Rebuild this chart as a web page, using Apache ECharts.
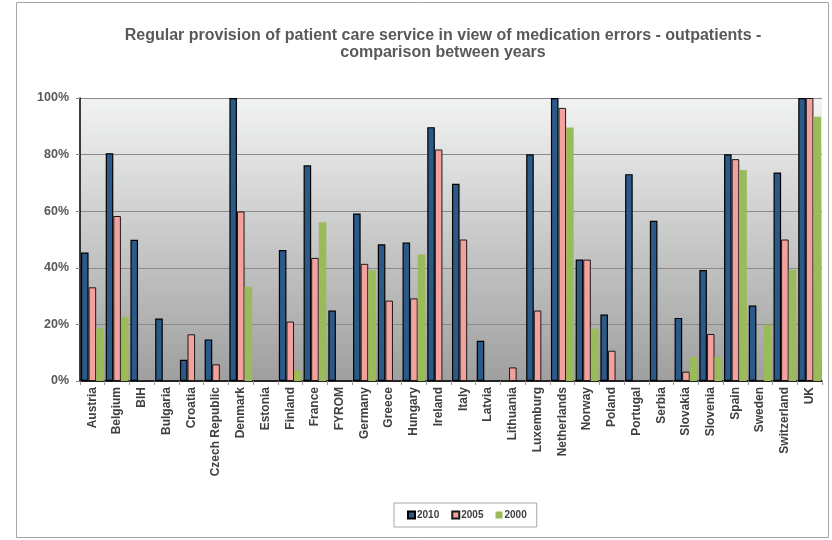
<!DOCTYPE html>
<html><head><meta charset="utf-8">
<script src="https://cdn.jsdelivr.net/npm/echarts@6/dist/echarts.min.js"></script>
<style>html,body{margin:0;padding:0;background:#fff}#c{width:832px;height:540px}</style>
</head><body><div id="c"></div>
<script>
const categories = ["Austria","Belgium","BIH","Bulgaria","Croatia","Czech Republic","Denmark","Estonia","Finland","France","FYROM","Germany","Greece","Hungary","Ireland","Italy","Latvia","Lithuania","Luxemburg","Netherlands","Norway","Poland","Portugal","Serbia","Slovakia","Slovenia","Spain","Sweden","Switzerland","UK"];
const v2010 = [45.4,80.5,49.9,22.1,7.5,14.7,100,0,46.3,76.2,24.9,59.2,48.3,48.9,89.7,69.7,14.2,0,80.1,100,42.9,23.5,73.1,56.6,22.3,39.2,80.1,26.7,73.7,100];
const v2005 = [33.1,58.3,0,0,16.5,5.9,59.9,0,21.0,43.5,0,41.4,28.4,29.2,81.8,50.0,0,4.8,24.9,96.5,42.9,10.7,0,0,3.3,16.6,78.4,0,50.0,100];
const v2000 = [18.6,22.6,0,0,0,0,33.3,0,3.7,56.1,0,39.2,0,44.7,0,0,0,0,0,89.6,18.5,0,0,0,8.5,8.5,74.6,19.9,39.3,93.4];
const yTicks = [0,20,40,60,80,100];
const seriesNames = ["2010","2005","2000"];

const nz = a => a.map(v => v === 0 ? null : v);
const chart = echarts.init(document.getElementById('c'), null, {renderer:'canvas'});
const font = 'Liberation Sans';
chart.setOption({
  animation:false,
  backgroundColor:'#fff',
  title:{
    text:'Regular provision of patient care service in view of medication errors - outpatients -\ncomparison between years',
    left:438, top:22, textAlign:'center',
    textStyle:{fontFamily:font,fontSize:16,fontWeight:'bold',color:'#595959',lineHeight:17}
  },
  graphic:[{type:'rect',shape:{x:16.5,y:2.5,width:812,height:535},style:{fill:null,stroke:'#a6a6a6',lineWidth:1},z:-1}],
  legend:{
    data:seriesNames, left:394, top:503, orient:'horizontal', icon:'rect',
    borderColor:'#a6a6a6', borderWidth:1, padding:[7,10,7,13],
    itemWidth:7, itemHeight:7, itemGap:12,
    textStyle:{fontFamily:font,fontSize:10,fontWeight:'bold',color:'#404040',padding:[0,0,0,-3]}
  },
  grid:{left:80,right:10,top:98,bottom:159,show:true,borderWidth:0,
    backgroundColor:new echarts.graphic.LinearGradient(0,0,0,1,[{offset:0,color:'#f1f2f2'},{offset:1,color:'#9f9f9f'}])},
  xAxis:{
    type:'category', data:categories, boundaryGap:true,
    axisLine:{lineStyle:{color:'#000',width:1.5}},
    axisTick:{show:true,length:4,lineStyle:{color:'#999'}},
    axisLabel:{interval:0,rotate:90,fontFamily:font,fontSize:12,fontWeight:'bold',color:'#404040',margin:6}
  },
  yAxis:{
    type:'value', min:0, max:100, interval:20,
    axisLine:{show:true,lineStyle:{color:'#000',width:1.5}},
    axisTick:{show:true,length:4,lineStyle:{color:'#888'}},
    axisLabel:{formatter:v=>yTicks.includes(v)?v+'%':'',fontFamily:font,fontSize:12.5,fontWeight:'bold',color:'#595959',margin:11},
    splitLine:{lineStyle:{color:'#8a8a8a',width:1}}
  },
  series:[
    {name:'2010',type:'bar',data:nz(v2010),barGap:'0%',barCategoryGap:'8%',
      itemStyle:{color:'#2b5a89',borderColor:'#000',borderWidth:1.2}},
    {name:'2005',type:'bar',data:nz(v2005),barGap:'0%',barCategoryGap:'8%',
      itemStyle:{color:'#f4a19e',borderColor:'#1a1a1a',borderWidth:1}},
    {name:'2000',type:'bar',data:nz(v2000),barGap:'0%',barCategoryGap:'8%',
      itemStyle:{color:'#9bba5a'}}
  ]
});
</script></body></html>
